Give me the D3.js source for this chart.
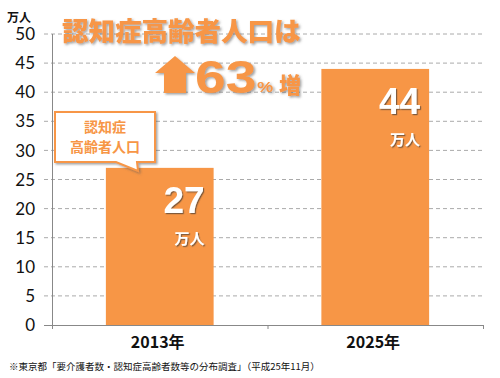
<!DOCTYPE html>
<html><head><meta charset="utf-8">
<script src="https://cdn.jsdelivr.net/npm/d3@7"></script>
<style>body{margin:0;background:#fff}svg{display:block}</style>
</head><body>
<script>
const categories = ["2013年", "2025年"];
const values = [27, 44];
const yTicks = [0, 5, 10, 15, 20, 25, 30, 35, 40, 45, 50];
const unitLabel = "万人";
const titleText = "認知症高齢者人口は";
const increaseText = "63";
const calloutLines = ["認知症", "高齢者人口"];
const footnote = "※東京都「要介護者数・認知症高齢者数等の分布調査」（平成25年11月）";

const W = 500, H = 378;
const margin = {left: 52, right: 17, top: 34, bottom: 53};
const orange = "#F79646";
const jp = "'Noto Sans CJK JP', sans-serif";
const num = "'Liberation Sans', Arial, sans-serif";

const svg = d3.select("body").append("svg").attr("width", W).attr("height", H);
const defs = svg.append("defs");
const f = defs.append("filter").attr("id", "sh").attr("x", "-20%").attr("y", "-20%").attr("width", "140%").attr("height", "140%");
f.append("feDropShadow").attr("dx", 1.5).attr("dy", 1.5).attr("stdDeviation", 0.8).attr("flood-color", "#555").attr("flood-opacity", 0.55);
const f2 = defs.append("filter").attr("id", "sh2").attr("x", "-20%").attr("y", "-20%").attr("width", "140%").attr("height", "140%");
f2.append("feDropShadow").attr("dx", 1.2).attr("dy", 1.2).attr("stdDeviation", 0.6).attr("flood-color", "#333").attr("flood-opacity", 0.6);

const x = d3.scaleBand().domain(categories).range([margin.left, W - margin.right])
  .paddingInner(0.5).paddingOuter(0.25);
const y = d3.scaleLinear().domain([0, 50]).range([H - margin.bottom, margin.top]);

// gridlines
svg.append("g").selectAll("line").data(yTicks.filter(d => d > 0)).join("line")
  .attr("x1", margin.left - 8).attr("x2", W - margin.right)
  .attr("y1", d => y(d)).attr("y2", d => y(d))
  .attr("stroke", "#aaa").attr("stroke-width", 1).attr("stroke-dasharray", "4,3");

// y tick labels
svg.append("g").selectAll("text").data(yTicks).join("text")
  .attr("x", 35).attr("y", d => y(d)).attr("dy", "0.36em")
  .attr("text-anchor", "end").attr("font-family", "Lato, 'Open Sans', sans-serif")
  .attr("font-size", 17).attr("fill", "#111").text(d => d);

// bars
svg.append("g").selectAll("rect").data(values).join("rect")
  .attr("x", (d, i) => x(categories[i])).attr("width", x.bandwidth())
  .attr("y", d => y(d)).attr("height", d => y(0) - y(d)).attr("fill", orange);

// axes lines
svg.append("line").attr("x1", margin.left + 0.5).attr("x2", margin.left + 0.5)
  .attr("y1", y(50)).attr("y2", y(0)).attr("stroke", "#888");
svg.append("line").attr("x1", margin.left - 8).attr("x2", W - margin.right)
  .attr("y1", y(0) + 0.5).attr("y2", y(0) + 0.5).attr("stroke", "#888");
// x tick marks
const xTickPos = [margin.left, (margin.left + W - margin.right) / 2, W - margin.right];
svg.append("g").selectAll("line").data(xTickPos).join("line")
  .attr("x1", d => d + 0.5).attr("x2", d => d + 0.5)
  .attr("y1", y(0)).attr("y2", y(0) + 4).attr("stroke", "#888");

// x labels
svg.append("g").selectAll("text").data(categories).join("text")
  .attr("x", d => x(d) + x.bandwidth() / 2 - 2).attr("y", 348)
  .attr("text-anchor", "middle").attr("font-family", jp).attr("font-weight", "bold")
  .attr("font-size", 16).attr("fill", "#111").text(d => d);

// unit label
svg.append("text").attr("x", 7).attr("y", 22).attr("font-family", jp).attr("font-weight", "bold")
  .attr("font-size", 12).attr("fill", "#111").text(unitLabel);

// value labels
values.forEach((v, i) => {
  const xr = x(categories[i]) + x.bandwidth() - 9;
  svg.append("text").attr("x", xr).attr("y", y(v) + 45).attr("text-anchor", "end")
    .attr("font-family", num).attr("font-weight", "bold").attr("font-size", 37)
    .attr("fill", "#fff").attr("filter", "url(#sh2)").text(v);
  svg.append("text").attr("x", xr).attr("y", y(v) + 76).attr("text-anchor", "end")
    .attr("font-family", jp).attr("font-weight", "bold").attr("font-size", 15)
    .attr("fill", "#fff").attr("filter", "url(#sh2)").text(unitLabel);
});

// callout
const cb = {x0: 55, x1: 155, y0: 112, y1: 162};
const pPath = `M${cb.x0},${cb.y0} H${cb.x1} V${cb.y1} H137 L138,171 L116,${cb.y1} H${cb.x0} Z`;
svg.append("path").attr("d", pPath).attr("fill", "#fff").attr("stroke", orange)
  .attr("stroke-width", 2).attr("filter", "url(#sh)");
calloutLines.forEach((t, i) => {
  svg.append("text").attr("x", 105).attr("y", 132 + i * 20).attr("text-anchor", "middle")
    .attr("font-family", jp).attr("font-weight", "bold").attr("font-size", 14)
    .attr("fill", orange).text(t);
});

// big title
svg.append("text").attr("x", 62).attr("y", 41).attr("font-family", jp).attr("font-weight", "900")
  .attr("font-size", 26.5).attr("fill", orange).attr("filter", "url(#sh)").text(titleText);

// arrow
svg.append("path").attr("d", "M175,56 L195,73 L186,73 L186,93 L164,93 L164,73 L155,73 Z")
  .attr("fill", orange).attr("filter", "url(#sh)");
svg.append("text").attr("transform", "translate(195,93) scale(1.2,1)")
  .attr("font-family", num).attr("font-weight", "bold")
  .attr("font-size", 46).attr("fill", orange).attr("filter", "url(#sh)").text(increaseText);
svg.append("text").attr("transform", "translate(257,92) scale(1.3,1)")
  .attr("font-family", num).attr("font-weight", "bold")
  .attr("font-size", 14).attr("fill", orange).attr("filter", "url(#sh)").text("%");
svg.append("text").attr("x", 279).attr("y", 93).attr("font-family", jp).attr("font-weight", "900")
  .attr("font-size", 22).attr("fill", orange).attr("filter", "url(#sh)").text("増");

// footnote
svg.append("text").attr("x", 9).attr("y", 370).attr("font-family", jp)
  .attr("font-size", 9.5).attr("fill", "#111").text(footnote);
</script>
</body></html>
